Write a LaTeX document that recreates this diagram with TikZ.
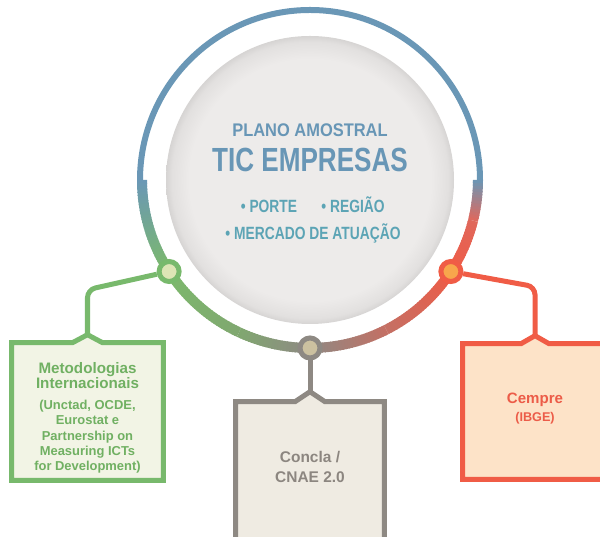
\documentclass[tikz,border=0pt]{standalone}
\usepackage{fontspec}
\setmainfont{Liberation Sans}
\newfontfamily\condfont{Liberation Sans}[FakeStretch=0.78]
\newfontfamily\semifont{Liberation Sans}[FakeStretch=0.9]
\usetikzlibrary{calc,backgrounds}

\definecolor{ringblue}{RGB}{106,151,182}
\definecolor{ringgreen}{RGB}{124,185,108}
\definecolor{ringsage}{RGB}{128,168,112}
\definecolor{ringgray}{RGB}{143,137,131}
\definecolor{ringrose}{RGB}{196,112,100}
\definecolor{ringred}{RGB}{239,91,70}
\definecolor{ringredb}{RGB}{224,104,92}
\definecolor{titleblue}{RGB}{104,150,182}
\definecolor{itemteal}{RGB}{92,164,181}
\definecolor{metgreen}{RGB}{120,185,108}
\definecolor{mettext}{RGB}{112,176,98}
\definecolor{metfill}{RGB}{242,244,229}
\definecolor{metdot}{RGB}{221,229,181}
\definecolor{congray}{RGB}{142,137,131}
\definecolor{context}{RGB}{140,134,128}
\definecolor{confill}{RGB}{239,235,226}
\definecolor{condot}{RGB}{204,193,160}
\definecolor{cemred}{RGB}{240,92,70}
\definecolor{cemtext}{RGB}{236,92,72}
\definecolor{cemfill}{RGB}{253,227,200}
\definecolor{cemdot}{RGB}{248,166,76}
\definecolor{discin}{RGB}{237,235,234}
\definecolor{discrim}{RGB}{226,224,223}
\definecolor{discedge}{RGB}{214,212,211}

\pgfdeclareradialshading{discshade}{\pgfpoint{0bp}{0bp}}{color(0bp)=(discin); color(21bp)=(discin); color(24bp)=(discrim); color(25bp)=(discedge); color(50bp)=(discedge)}

\tikzset{
  ringdot/.style={circle, line width=0.125cm, minimum size=0.5cm, inner sep=0pt},
  wire/.style={line width=0.125cm, rounded corners=0.2cm},
  srcbox/.style={rectangle, inner sep=0pt, align=center},
  boxline/.style={line width=0.125cm, line join=miter},
  headline/.style={anchor=base},
  itemline/.style={anchor=base, text=itemteal, font=\condfont\bfseries\fontsize{12.6}{14}\selectfont},
}

\begin{document}
\begin{tikzpicture}[x=0.025cm, y=0.025cm]
  \useasboundingbox (0,0) rectangle (600,537);
  \clip (0,0) rectangle (600,537);
  \coordinate (c) at (310,357);

  % Drawing the grey disc
  \shade[shading=discshade] (c) circle (144);

  % Drawing the ring, upper half
  \draw[ringblue, line width=0.15cm] ($(c)+(0:170)$) arc (0:180:170);

  % Drawing the ring, lower half (colour runs along it)
  \foreach \a/\b/\ca/\cb in {180/212/ringblue/ringgreen, 212/245/ringgreen/ringsage,
      245/270/ringsage/ringgray, 270/297/ringgray/ringrose, 297/327/ringrose/ringred,
      327/346/ringred/ringredb, 346/360/ringredb/ringblue}{
    \pgfmathtruncatemacro\n{\b-\a-1}
    \foreach \i in {0,...,\n}{
      \pgfmathsetmacro\s{\a+\i}
      \pgfmathsetmacro\e{min(\s+1.4,\b)}
      \pgfmathsetmacro\p{100*(\i+0.5)/(\b-\a)}
      \draw[draw=\cb!\p!\ca, line width=0.25cm] ($(c)+(\s:168)$) arc (\s:\e:168);
    }
  }

  % Texts inside the disc
  \node[headline, text=titleblue, font=\semifont\bfseries\fontsize{13}{15}\selectfont] (plano) at (310,400) {PLANO AMOSTRAL};
  \node[headline, text=titleblue, font=\condfont\bfseries\fontsize{23.8}{26}\selectfont] (tic) at (310,365) {TIC EMPRESAS};
  \node[itemline] (porte) at (269,324) {\textbullet\ PORTE};
  \node[itemline] (regiao) at (353,324) {\textbullet\ REGIÃO};
  \node[itemline] (mercado) at (313,297) {\textbullet\ MERCADO DE ATUAÇÃO};

  % Marking the sources on the ring
  \node[ringdot, draw=metgreen, fill=metdot] (gdot) at ($(c)+(213:168)$) {};
  \node[ringdot, draw=congray, fill=condot] (kdot) at ($(c)+(270:168)$) {};
  \node[ringdot, draw=cemred, fill=cemdot] (odot) at ($(c)+(327:168)$) {};

  % Source boxes
  \node[srcbox, minimum width=3.775cm, minimum height=3.425cm, text=mettext,
        font=\bfseries\fontsize{9.2}{10.8}\selectfont] (met) at (87.5,125.5)
    {{\bfseries\fontsize{10.8}{12}\selectfont\rule{0pt}{17pt}Metodologias}\\{\bfseries\fontsize{10.8}{12}\selectfont Internacionais}\\[4pt]
     (Unctad, OCDE,\\Eurostat e\\Partnership on\\Measuring ICTs\\for Development)};
  \node[srcbox, minimum width=3.7cm, minimum height=3.25cm, text=context,
        font=\bfseries\fontsize{11}{14}\selectfont] (con) at (310,70)
    {Concla /\\CNAE 2.0};
  \node[srcbox, minimum width=3.6cm, minimum height=3.375cm, text=cemtext,
        font=\bfseries\fontsize{9}{13}\selectfont] (cem) at (535,125.5)
    {{\bfseries\fontsize{10.7}{13}\selectfont Cempre}\\(IBGE)\rule[-6.4pt]{0pt}{0pt}};

  \begin{pgfonlayer}{background}
    % Drawing box outlines with the small peak on top
    \draw[boxline, draw=metgreen, fill=metfill] (met.south west) -- (met.north west)
      -- ($(met.north)+(-15,0)$) -- ++(15,8) -- ++(15,-8) -- (met.north east) -- (met.south east) -- cycle;
    \draw[boxline, draw=congray, fill=confill] ($(con.south west)+(0,-20)$) -- (con.north west)
      -- ($(con.north)+(-15,0)$) -- ++(15,10) -- ++(15,-10) -- (con.north east) -- ($(con.south east)+(0,-20)$);
    \draw[boxline, draw=cemred, fill=cemfill] (cem.south west) -- (cem.north west)
      -- ($(cem.north)+(-14,0)$) -- ++(14,8) -- ++(14,-8) -- (cem.north east) -- (cem.south east) -- cycle;
  \end{pgfonlayer}

  % Drawing the wires from ring to boxes
  \draw[wire, metgreen] (gdot) -- ($(met.north)+(0,53)$) -- ($(met.north)+(0,8)$);
  \draw[wire, congray] (kdot) -- ($(con.north)+(0,10)$);
  \draw[wire, cemred] (odot) -- ($(cem.north)+(0,57)$) -- ($(cem.north)+(0,8)$);
\end{tikzpicture}
\end{document}
